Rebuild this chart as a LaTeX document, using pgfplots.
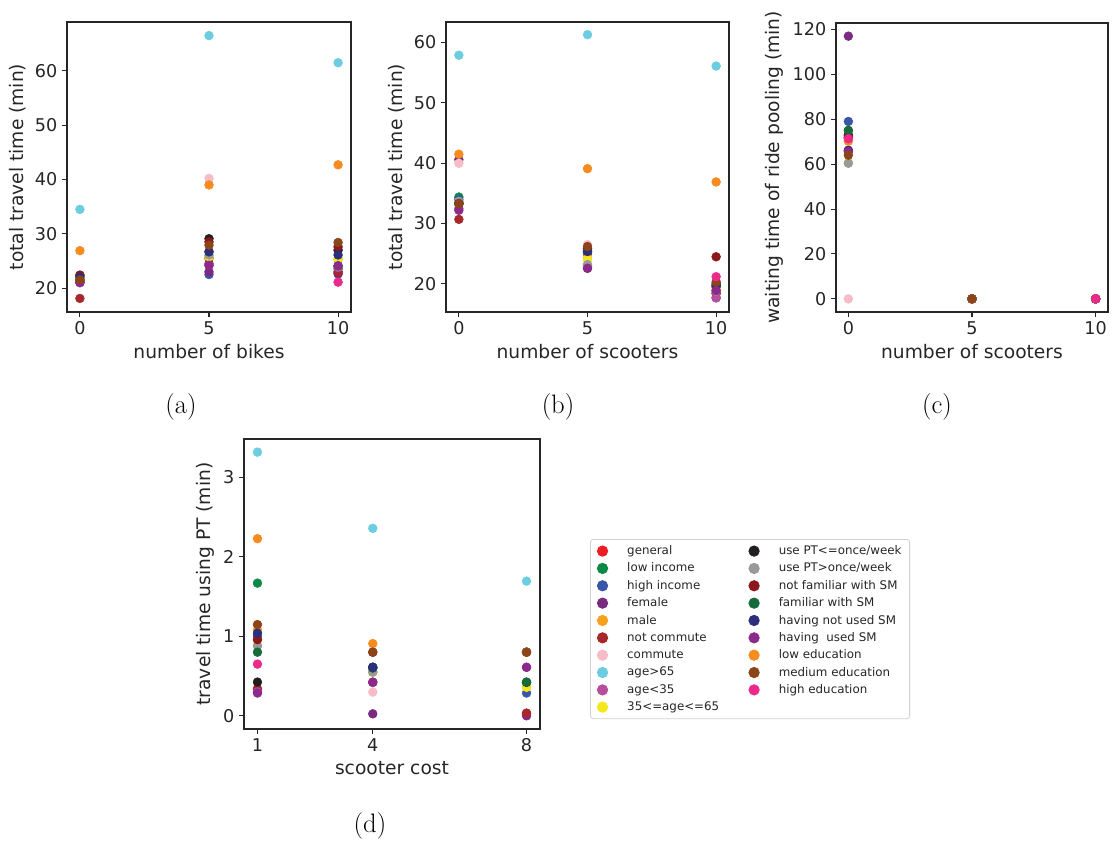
\documentclass[border=0pt]{standalone}
\usepackage{pgfplots}
\usepackage{pgfplotstable}
\pgfplotsset{compat=1.18}
\usepackage{fontspec}
\setmainfont{DejaVu Sans}
\newfontfamily\lmr{Latin Modern Roman}

% one colour per group, named after the table column
\definecolor{gen}{HTML}{EE1D23}
\definecolor{lowinc}{HTML}{0A8A46}
\definecolor{highinc}{HTML}{3A55A5}
\definecolor{female}{HTML}{7B2A82}
\definecolor{male}{HTML}{F9A11B}
\definecolor{notcomm}{HTML}{A6282B}
\definecolor{comm}{HTML}{F8BBC8}
\definecolor{old}{HTML}{6BCDDF}
\definecolor{young}{HTML}{B64E9E}
\definecolor{mid}{HTML}{F4E71B}
\definecolor{ptlow}{HTML}{231F20}
\definecolor{pthigh}{HTML}{999999}
\definecolor{notfam}{HTML}{8B181B}
\definecolor{fam}{HTML}{176B3A}
\definecolor{notused}{HTML}{2B2F7E}
\definecolor{used}{HTML}{8C2A8C}
\definecolor{lowedu}{HTML}{F68B1F}
\definecolor{medu}{HTML}{8B4518}
\definecolor{hedu}{HTML}{EC2A8C}
\definecolor{txt}{HTML}{262626}

% (a) total travel time vs number of bikes
\pgfplotstableread{
x  gen  lowinc highinc female male notcomm comm old  young mid  ptlow pthigh notfam fam  notused used lowedu medu hedu
0  21.5 21.8   21.2    21.0   21.6 18.1    22.0 34.5 21.0  21.7 22.3  21.4   22.4   21.5 22.0    21.1 26.9   21.5 nan
5  25.5 25.6   22.5    23.0   25.6 24.5    40.2 66.5 24.2  25.8 29.1  26.1   28.5   26.7 26.7    24.2 39.0   27.9 nan
10 24.0 23.5   22.8    22.6   25.3 23.0    27.0 61.5 23.8  25.5 27.0  24.0   27.6   24.1 26.1    24.1 42.7   28.4 21.1
}\tabA
% (b) total travel time vs number of scooters
\pgfplotstableread{
x  gen  lowinc highinc female male notcomm comm old  young mid  ptlow pthigh notfam fam  notused used lowedu medu hedu
0  33.5 34.4   34.0    40.6   33.5 30.7    40.0 57.9 32.5  33.5 33.3  33.7   33.3   33.3 33.3    32.2 41.5   33.3 nan
5  25.0 25.2   23.0    22.6   24.2 25.5    26.5 61.3 22.8  24.0 25.8  23.2   25.9   25.4 25.4    22.6 39.1   26.2 nan
10 19.5 19.0   18.5    17.7   19.8 18.4    20.5 56.1 17.7  19.2 20.0  18.8   24.5   19.8 19.6    18.9 36.9   20.3 21.2
}\tabB
% (c) waiting time of ride pooling vs number of scooters
\pgfplotstableread{
x  gen  lowinc highinc female male notcomm comm old  young mid  ptlow pthigh notfam fam  notused used lowedu medu hedu
0  71.3 75.0   79.0    117.0  70.5 72.0    0    73.0 66.0  60.6 72.9  60.4   72.0   75.0 66.2    65.5 70.2   64.0 71.3
5  0    0      0       0      0    0       0    0    0     0    0     0      0      0    0       0    0      0    nan
10 0    0      0       0      0    0       0    0    0     0    0     0      0      0    0       0    0      0    0
}\tabC
% (d) travel time using PT vs scooter cost
\pgfplotstableread{
x  gen  lowinc highinc female male notcomm comm  old   young mid   ptlow pthigh notfam fam   notused used  lowedu medu  hedu
1  0.33 1.668  1.0     0.30   1.08 0.34    0.88  3.315 0.30  0.95  0.424 0.88   0.958  0.80  1.04    0.286 2.227  1.147 0.65
4  0.55 0.61   0.60    0.025  0.55 0.42    0.298 2.357 0.42  0.546 0.61  0.55   0.80   0.60  0.61    0.424 0.908  0.80  nan
8  0.03 0.42   0.286   0.0    0.36 0.034   0.61  1.693 0.61  0.36  0.42  0.80   0.80   0.424 0.80    0.61  0.80   0.80  nan
}\tabD

\pgfplotsset{
  panel/.style={
    scale only axis, height=217.5pt,
    axis line style={draw=txt, line width=0.8pt},
    tick style={draw=txt, line width=0.8pt},
    major tick length=3.75pt,
    tick align=outside, xtick pos=bottom, ytick pos=left,
    tick label style={font=\fontsize{13.2}{15}\selectfont, text=txt},
    label style={font=\fontsize{14}{16}\selectfont, text=txt},
    /pgf/number format/assume math mode=true,
    scaled ticks=false,
    unbounded coords=discard,
    clip=false,
  },
  grp/.style={only marks, mark=*, mark size=3.3pt, color=#1,
    mark options={draw=#1, fill=#1}, forget plot},
  key/.style={only marks, mark=*, mark size=3.9pt, color=#1,
    mark options={draw=#1, fill=#1}},
}

\begin{document}
\begin{tikzpicture}
\useasboundingbox (0,0) rectangle (836.25pt,-632.25pt);

\begin{axis}[panel, at={(50.25pt,-16.5pt)}, anchor=north west, width=213pt,
    xmin=-0.5, xmax=10.5, ymin=15.6, ymax=69.0,
    xtick={0,5,10}, ytick={20,30,40,50,60},
    xlabel={number of bikes}, ylabel={total travel time (min)}]
\pgfplotsinvokeforeach{gen,lowinc,highinc,female,male,notcomm,comm,old,young,mid,ptlow,pthigh,notfam,fam,notused,used,lowedu,medu,hedu}{
  \addplot[grp=#1] table[x=x, y=#1] {\tabA};
}
\end{axis}

\begin{axis}[panel, at={(334.5pt,-16.5pt)}, anchor=north west, width=212.25pt,
    xmin=-0.5, xmax=10.5, ymin=15.35, ymax=63.4,
    xtick={0,5,10}, ytick={20,30,40,50,60},
    xlabel={number of scooters}, ylabel={total travel time (min)}]
\pgfplotsinvokeforeach{gen,lowinc,highinc,female,male,notcomm,comm,old,young,mid,ptlow,pthigh,notfam,fam,notused,used,lowedu,medu,hedu}{
  \addplot[grp=#1] table[x=x, y=#1] {\tabB};
}
\end{axis}

\begin{axis}[panel, at={(627pt,-17.25pt)}, anchor=north west, width=204pt, height=216.75pt,
    xmin=-0.5, xmax=10.5, ymin=-5.85, ymax=122.85,
    xtick={0,5,10}, ytick={0,20,40,60,80,100,120},
    xlabel={number of scooters}, ylabel={waiting time of ride pooling (min)}]
\pgfplotsinvokeforeach{gen,lowinc,highinc,female,male,notcomm,comm,old,young,mid,ptlow,pthigh,notfam,fam,notused,used,lowedu,medu,hedu}{
  \addplot[grp=#1] table[x=x, y=#1] {\tabC};
}
\end{axis}

\begin{axis}[panel, at={(183pt,-329.25pt)}, anchor=north west, width=222pt,
    xmin=0.65, xmax=8.35, ymin=-0.166, ymax=3.48,
    xtick={1,4,8}, ytick={0,1,2,3},
    xlabel={scooter cost}, ylabel={travel time using PT (min)},
    legend columns=2,
    legend cell align=left,
    legend image code/.code={%
      \path (0pt,0pt) (21pt,0pt);
      \draw[#1, mark repeat=2, mark phase=2] plot coordinates {(0pt,0pt)(4.8pt,0pt)(9.6pt,0pt)};},
    legend style={at={(1.169,0.655)}, anchor=north west,
      font=\fontsize{8.9}{10}\selectfont, text=txt,
      draw=black!18, line width=0.6pt, rounded corners=2pt,
      inner xsep=4pt, inner ysep=2.6pt, row sep=0.75pt,
      /tikz/every even column/.append style={column sep=19pt}},
]
\pgfplotsinvokeforeach{gen,lowinc,highinc,female,male,notcomm,comm,old,young,mid,ptlow,pthigh,notfam,fam,notused,used,lowedu,medu,hedu}{
  \addplot[grp=#1] table[x=x, y=#1] {\tabD};
}
% legend, laid out row by row as in the reference
\addlegendimage{key=gen}\addlegendentry{general}
\addlegendimage{key=ptlow}\addlegendentry{use PT<=once/week}
\addlegendimage{key=lowinc}\addlegendentry{low income}
\addlegendimage{key=pthigh}\addlegendentry{use PT>once/week}
\addlegendimage{key=highinc}\addlegendentry{high income}
\addlegendimage{key=notfam}\addlegendentry{not familiar with SM}
\addlegendimage{key=female}\addlegendentry{female}
\addlegendimage{key=fam}\addlegendentry{familiar with SM}
\addlegendimage{key=male}\addlegendentry{male}
\addlegendimage{key=notused}\addlegendentry{having not used SM}
\addlegendimage{key=notcomm}\addlegendentry{not commute}
\addlegendimage{key=used}\addlegendentry{having\ \ used SM}
\addlegendimage{key=comm}\addlegendentry{commute}
\addlegendimage{key=lowedu}\addlegendentry{low education}
\addlegendimage{key=old}\addlegendentry{age>65}
\addlegendimage{key=medu}\addlegendentry{medium education}
\addlegendimage{key=young}\addlegendentry{age<35}
\addlegendimage{key=hedu}\addlegendentry{high education}
\addlegendimage{key=mid}\addlegendentry{35<=age<=65}
\end{axis}

\node[font=\lmr\fontsize{20}{24}\selectfont] at (135.75pt,-305.25pt) {(a)};
\node[font=\lmr\fontsize{20}{24}\selectfont] at (418.5pt,-305.25pt) {(b)};
\node[font=\lmr\fontsize{20}{24}\selectfont] at (702.75pt,-305.25pt) {(c)};
\node[font=\lmr\fontsize{20}{24}\selectfont] at (277.5pt,-619.5pt) {(d)};
\end{tikzpicture}
\end{document}
